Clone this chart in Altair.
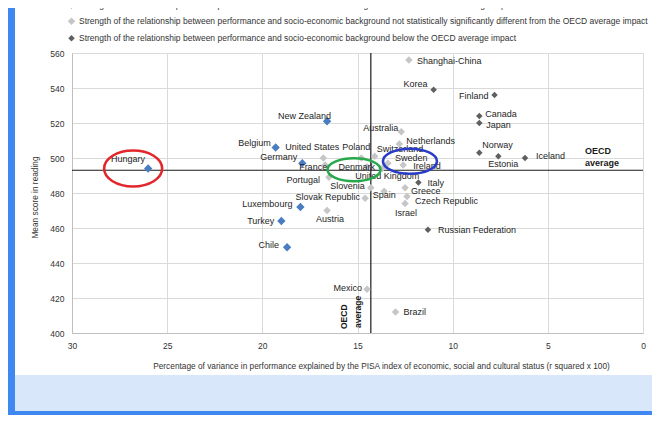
import altair as alt
import pandas as pd

# ---------------- data ----------------
countries = [
    "Hungary", "New Zealand", "Belgium", "Germany", "France", "Luxembourg", "Turkey", "Chile",
    "United States", "Portugal", "Poland", "Denmark", "Slovenia", "Slovak Republic", "Austria",
    "Spain", "United Kingdom", "Greece", "Czech Republic", "Israel", "Sweden", "Ireland",
    "Switzerland", "Netherlands", "Australia", "Shanghai-China", "Mexico", "Brazil",
    "Korea", "Finland", "Canada", "Japan", "Norway", "Estonia", "Iceland", "Italy",
    "Russian Federation",
]
r_squared = [
    26.0, 16.6, 19.3, 17.9, 16.7, 18.0, 19.0, 18.7,
    16.8, 16.5, 14.8, 14.5, 14.3, 14.6, 16.6,
    13.6, 13.7, 12.5, 12.4, 12.5, 13.4, 12.6,
    14.1, 12.8, 12.7, 12.3, 14.5, 13.0,
    11.0, 7.8, 8.6, 8.6, 8.6, 7.6, 6.2, 11.8,
    11.3,
]
reading_score = [
    494, 521, 506, 497, 496, 472, 464, 449,
    500, 489, 500, 495, 483, 477, 470,
    481, 494, 483, 478, 474, 497, 496,
    501, 508, 515, 556, 425, 412,
    539, 536, 524, 520, 503, 501, 500, 486,
    459,
]
group_code = [
    "above", "above", "above", "above", "not", "above", "above", "above",
    "not", "not", "not", "not", "not", "not", "not",
    "not", "not", "not", "not", "not", "not", "not",
    "not", "not", "not", "not", "not", "not",
    "below", "below", "below", "below", "below", "below", "below", "below",
    "below",
]
category_labels = {
    "above": "Strength of the relationship between performance and socio-economic background above the OECD average impact",
    "not": "Strength of the relationship between performance and socio-economic background not statistically significantly different from the OECD average impact",
    "below": "Strength of the relationship between performance and socio-economic background below the OECD average impact",
}
category_order = ["above", "not", "below"]
oecd_avg_r2 = [14.3]
oecd_avg_reading = [493]
x_ticks = [30, 25, 20, 15, 10, 5, 0]
y_ticks = [400, 420, 440, 460, 480, 500, 520, 540, 560]

x_title = "Percentage of variance in performance explained by the PISA index of economic, social and cultural status (r squared x 100)"
y_title = "Mean score in reading"

# ---------------- styles / annotation layout ----------------
FONT = "Liberation Sans"
category_colors = ["#4A7DC0", "#C6C6C6", "#5F5F5F"]
category_sizes = [70, 42, 62]

# label placement: (align, dx, dy) in pixels relative to the point
label_pos = {
    "Hungary": ("right", -3, -10), "New Zealand": ("right", 4, -5), "Belgium": ("right", -5, -5),
    "Germany": ("right", -5, -6), "France": ("right", 2, 2), "Luxembourg": ("right", -8, -3),
    "Turkey": ("right", -7, 0), "Chile": ("right", -8, -2), "United States": ("right", 16, -11),
    "Portugal": ("right", -9, 3), "Poland": ("right", 9, -11), "Denmark": ("right", 8, 0),
    "Slovenia": ("right", -6, -2), "Slovak Republic": ("right", -5, -1), "Austria": ("center", 3, 8),
    "Spain": ("center", 0, 4), "United Kingdom": ("center", 5, 7), "Greece": ("left", 6, 3),
    "Czech Republic": ("left", 8, 4), "Israel": ("center", 1, 9), "Sweden": ("left", 7, -5),
    "Ireland": ("left", 10, 1), "Switzerland": ("left", 2, -7), "Netherlands": ("left", 7, -3),
    "Australia": ("right", -3, -4), "Shanghai-China": ("left", 8, 1), "Mexico": ("right", -5, -1),
    "Brazil": ("left", 8, 0), "Korea": ("right", -6, -6), "Finland": ("right", -6, 1),
    "Canada": ("left", 6, -2), "Japan": ("left", 7, 2), "Norway": ("left", 3, -8),
    "Estonia": ("center", 5, 8), "Iceland": ("left", 11, -2), "Italy": ("left", 9, 0),
    "Russian Federation": ("left", 10, 0),
}

# highlight ellipses: anchor country, colour, centre offset (px), half width, half height
ellipses = [
    ("Hungary", "#E2262B", -15, 0, 29, 18),
    ("Denmark", "#27A84A", -13, 3, 26.5, 11.5),
    ("Sweden", "#2B3CC4", 22, -2, 27, 12.5),
]

W, H = 571, 280

df = pd.DataFrame({
    "country": countries,
    "r2": r_squared,
    "reading": reading_score,
    "category": [category_labels[g] for g in group_code],
})
cat_domain = [category_labels[g] for g in category_order]

x_enc = alt.X(
    "r2:Q",
    scale=alt.Scale(domain=[0, 30], reverse=True, nice=False, zero=False),
    axis=alt.Axis(
        values=x_ticks, grid=True, ticks=False, labelPadding=8, title=x_title,
        titleX=309, titleY=33, titleAlign="center", titleBaseline="middle",
        labelFlush=False,
    ),
)
y_enc = alt.Y(
    "reading:Q",
    scale=alt.Scale(domain=[400, 560], nice=False, zero=False),
    axis=alt.Axis(
        values=y_ticks, grid=True, ticks=False, labelPadding=8, title=y_title,
        titleAngle=270, titleX=-37, titleY=144, titleAlign="center", titleBaseline="middle",
    ),
)

one = pd.DataFrame({"k": [0]})

# slide frame decoration outside the plot area
frame_left = alt.Chart(one).mark_rect(color="#3F87F1").encode(
    x=alt.value(-64), x2=alt.value(-57), y=alt.value(-45), y2=alt.value(362))
frame_panel = alt.Chart(one).mark_rect(color="#D9E7FB").encode(
    x=alt.value(-57), x2=alt.value(580), y=alt.value(322), y2=alt.value(358))
frame_bottom = alt.Chart(one).mark_rect(color="#3F87F1").encode(
    x=alt.value(-64), x2=alt.value(580), y=alt.value(358), y2=alt.value(362))

hline = alt.Chart(pd.DataFrame({"reading": oecd_avg_reading})).mark_rule(
    color="#1A1A1A", strokeWidth=1.2).encode(y=y_enc)
vline = alt.Chart(pd.DataFrame({"r2": oecd_avg_r2})).mark_rule(
    color="#1A1A1A", strokeWidth=1.2).encode(x=x_enc)

points = alt.Chart(df).mark_point(shape="diamond", filled=True, opacity=1).encode(
    x=x_enc, y=y_enc,
    color=alt.Color("category:N", scale=alt.Scale(domain=cat_domain, range=category_colors),
                    legend=alt.Legend(title=None, orient="none", legendX=-5, legendY=-53,
                                      direction="vertical")),
    size=alt.Size("category:N", scale=alt.Scale(domain=cat_domain, range=category_sizes), legend=None),
)

label_layers = []
for name in countries:
    al, ddx, ddy = label_pos[name]
    label_layers.append(
        alt.Chart(df).transform_filter(alt.datum.country == name).mark_text(
            align=al, baseline="middle", dx=ddx, dy=ddy, font=FONT, fontSize=9, color="#1E1E1E"
        ).encode(x=x_enc, y=y_enc, text="country:N")
    )

oecd_h = [
    alt.Chart(pd.DataFrame({"reading": oecd_avg_reading})).mark_text(
        text=t, align="left", baseline="middle", dy=d, font=FONT, fontSize=9,
        fontWeight="bold", color="#1A1A1A").encode(x=alt.value(513), y=y_enc)
    for t, d in [("OECD", -19), ("average", -7)]
]
oecd_v = [
    alt.Chart(pd.DataFrame({"r2": oecd_avg_r2})).mark_text(
        text=t, align="left", baseline="middle", angle=270, dx=ddx, dy=d, font=FONT,
        fontSize=8.5, fontWeight="bold", color="#1A1A1A").encode(x=x_enc, y=alt.value(H))
    for t, ddx, d in [("OECD", 4, -27), ("average", 5, -13)]
]

ellipse_layers = []
for anchor, col, ox, oy, a, b in ellipses:
    cx, cy, ry = ox / a, oy / a, b / a
    path = (f"M {cx - 1:.3f} {cy:.3f} A 1 {ry:.3f} 0 0 1 {cx + 1:.3f} {cy:.3f} "
            f"A 1 {ry:.3f} 0 0 1 {cx - 1:.3f} {cy:.3f} Z")
    ellipse_layers.append(
        alt.Chart(df).transform_filter(alt.datum.country == anchor).mark_point(
            shape=path, size=(2 * a) ** 2, filled=False, color=col, strokeWidth=2.6, opacity=1
        ).encode(x=x_enc, y=y_enc)
    )

chart = alt.layer(
    frame_left, frame_panel, frame_bottom, hline, vline, points,
    *label_layers, *oecd_h, *oecd_v, *ellipse_layers,
).properties(
    width=W, height=H,
    padding={"left": 64, "top": 45, "right": 9, "bottom": 82},
    autosize=alt.AutoSizeParams(type="none"),
).configure(
    font=FONT, background="white",
).configure_view(
    stroke="#BFBFBF", strokeWidth=1,
).configure_axis(
    gridColor="#DADADA", gridWidth=1, domainColor="#BFBFBF",
    labelFont=FONT, labelFontSize=8.5, labelColor="#333333",
    titleFont=FONT, titleFontSize=8.3, titleFontWeight="normal", titleColor="#333333",
).configure_legend(
    symbolType="diamond", symbolSize=30, symbolStrokeWidth=0, labelFont=FONT,
    labelFontSize=8.5, labelColor="#333333", labelLimit=1000, rowPadding=8, padding=0,
    labelOffset=3,
)

chart.save("out.html", embed_options={"renderer": "svg", "actions": False})
